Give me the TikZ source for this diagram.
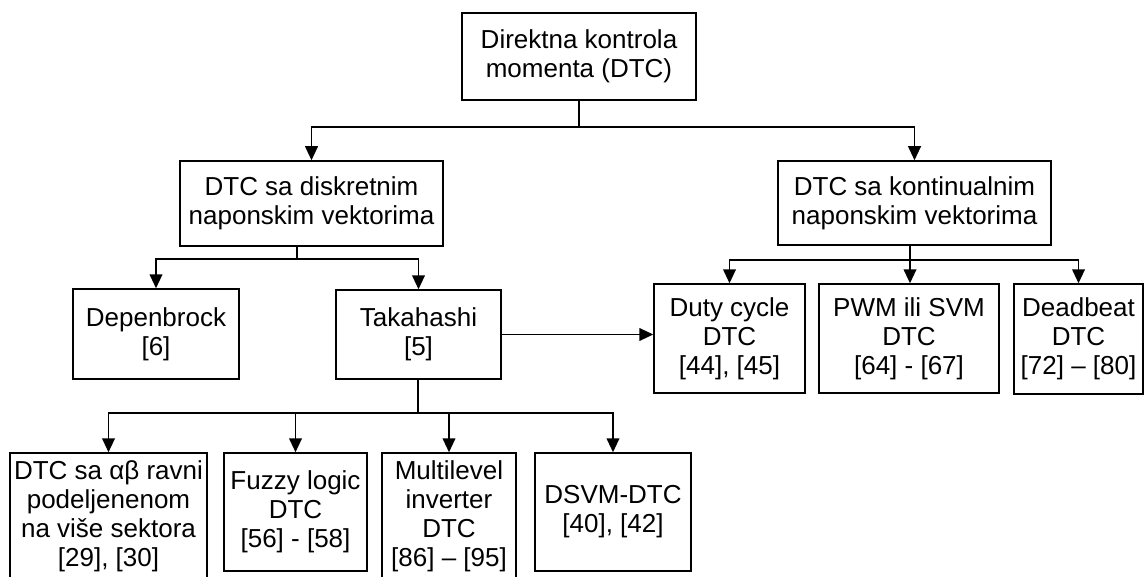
\documentclass[tikz,border=0pt]{standalone}
\usepackage{fontspec}
\setmainfont{Liberation Sans}
\usetikzlibrary{arrows.meta}

\tikzset{
  blok/.style={draw, line width=0.75pt, align=center, inner sep=0pt, font=\fontsize{13}{14.5}\selectfont},
  strel/.style={-{Triangle[length=7pt,width=6.4pt]}, line width=0.75pt},
  veza/.style={line width=0.75pt}
}

\begin{document}
\begin{tikzpicture}[x=0.5pt, y=-0.5pt]
\useasboundingbox (0,0) rectangle (1144,577);
\clip (0,0) rectangle (1144,577);
% glavni blok
\node[blok, minimum width=117pt, minimum height=43.5pt] (top) at (579,56.5) {Direktna kontrola\\momenta (DTC)};
% druga grana
\node[blok, minimum width=131.5pt, minimum height=42.5pt] (disc) at (311.5,203.5) {DTC sa diskretnim\\naponskim vektorima};
\node[blok, minimum width=136.5pt, minimum height=42pt] (cont) at (914.5,203) {DTC sa kontinualnim\\naponskim vektorima};
% treci nivo
\node[blok, minimum width=83pt, minimum height=45pt] (dep) at (156,334) {Depenbrock\\{[6]}};
\node[blok, minimum width=82.5pt, minimum height=44.5pt] (tak) at (418.5,334.5) {Takahashi\\{[5]}};
\node[blok, minimum width=75.5pt, minimum height=54.5pt] (duty) at (729.5,338.5) {Duty cycle\\DTC\\{[44], [45]}};
\node[blok, minimum width=90pt, minimum height=54.5pt] (pwm) at (909,338.5) {PWM ili SVM\\DTC\\{[64] - [67]}};
\node[blok, minimum width=64.5pt, minimum height=55pt] (dead) at (1078.5,339) {Deadbeat\\DTC\\{[72] – [80]}};
% varijante Takahashi
\node[blok, minimum width=98.5pt, minimum height=63pt] (ab) at (108.5,516) {DTC sa αβ ravni\\podeljenenom\\na više sektora\\{[29], [30]}};
\node[blok, minimum width=71.5pt, minimum height=59pt] (fuzzy) at (295.5,512) {Fuzzy logic\\DTC\\{[56] - [58]}};
\node[blok, minimum width=67pt, minimum height=63pt] (multi) at (449,516) {Multilevel\\inverter\\DTC\\{[86] – [95]}};
\node[blok, minimum width=78pt, minimum height=59pt] (dsvm) at (613,512) {DSVM-DTC\\{[40], [42]}};

% veze
\coordinate (r1) at (579,127);
\draw[veza] (top.south) -- (r1);
\draw[strel] (r1) -| (disc.north);
\draw[strel] (r1) -| (cont.north);

\coordinate (r2) at (297,259);
\draw[veza] (r2 |- disc.south) -- (r2);
\draw[strel] (r2) -| (dep.north);
\draw[strel] (r2) -| (tak.north);

\coordinate (r3) at (910,260);
\draw[veza] (r3 |- cont.south) -- (r3);
\draw[strel] (r3) -| (duty.north);
\draw[strel] (r3) -- (r3 |- pwm.north);
\draw[strel] (r3) -| (dead.north);

\draw[strel] (tak.east) -- (tak.east -| duty.west);

\coordinate (r4) at (418,413);
\draw[veza] (r4 |- tak.south) -- (r4);
\foreach \n in {ab,fuzzy,multi,dsvm}
  \draw[strel] (r4) -| (\n.north);
\end{tikzpicture}
\end{document}
